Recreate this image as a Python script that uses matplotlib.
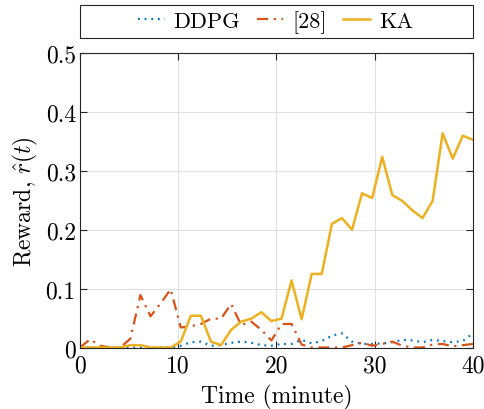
import numpy as np
import matplotlib
matplotlib.use("Agg")
import matplotlib.pyplot as plt
from matplotlib.patches import Rectangle

# time grid (minutes) and rewards
time_min = np.linspace(0, 40, 40)

ddpg = [0, 0, 0, 0, 0, 0, 0, 0, 0, 0,
        0.003, 0.009, 0.010, 0.003, 0.004, 0.008, 0.010, 0.008, 0.004, 0.003,
        0.006, 0.006, 0.013, 0.007, 0.011, 0.020, 0.024, 0.010, 0.006, 0.006,
        0.007, 0.009, 0.013, 0.012, 0.009, 0.013, 0.011, 0.009, 0.011, 0.024]

ref28 = [0, 0.014, 0.003, 0, 0, 0.015, 0.089, 0.053, 0.075, 0.099,
         0.034, 0.036, 0.040, 0.049, 0.049, 0.074, 0.038, 0.044, 0.030, 0.012,
         0.040, 0.040, 0.005, 0, 0, 0, 0, 0.004, 0.008, 0.003,
         0.006, 0.010, 0.003, 0, 0, 0.005, 0.006, 0.002, 0.004, 0.006]

ka = [0, 0, 0, 0, 0, 0.004, 0.004, 0, 0, 0,
      0.010, 0.054, 0.054, 0.010, 0.004, 0.030, 0.044, 0.049, 0.060, 0.045,
      0.049, 0.114, 0.048, 0.125, 0.125, 0.210, 0.220, 0.200, 0.262, 0.254,
      0.324, 0.259, 0.249, 0.233, 0.220, 0.249, 0.364, 0.321, 0.360, 0.353]

series_names = ["DDPG", "[28]", "KA"]
x_ticks = [0, 10, 20, 30, 40]
y_ticks = [0, 0.1, 0.2, 0.3, 0.4, 0.5]
y_tick_labels = ["0", "0.1", "0.2", "0.3", "0.4", "0.5"]

plt.rcParams["font.family"] = ["cmr10", "DejaVu Serif"]
plt.rcParams["mathtext.fontset"] = "cm"

fig = plt.figure(figsize=(4.85, 4.10), dpi=100)
ax = fig.add_axes([0.165, 0.150, 0.810, 0.7176])

l1, = ax.plot(time_min, ddpg, color="#0072BD", linestyle=(0, (0.8, 2.2)), lw=1.6)
l2, = ax.plot(time_min, ref28, color="#D95319", linestyle=(0, (5, 2.5, 1, 2.5)), lw=1.6)
l3, = ax.plot(time_min, ka, color="#EDB120", linestyle="-", lw=1.8)

ax.set_xlim(0, 40)
ax.set_ylim(0, 0.5)
ax.set_xticks(x_ticks)
ax.set_yticks(y_ticks)
ax.set_yticklabels(y_tick_labels)
ax.grid(True, color="#e0e0e0", lw=0.8)
ax.set_axisbelow(True)
ax.tick_params(direction="in", length=5, width=0.8, color="#262626",
               top=True, right=True, labelsize=17)
ax.tick_params(axis="y", pad=3)
ax.tick_params(axis="x", pad=5)
for s in ax.spines.values():
    s.set_color("#262626")
    s.set_linewidth(0.8)

ax.set_xlabel("Time (minute)", fontsize=17, labelpad=5)
ax.set_ylabel(r"Reward, $\hat{r}(t)$", fontsize=17, labelpad=4)

# legend box spanning the axes width, above the plot
fig.patches.append(Rectangle((0.165, 0.904), 0.810, 0.081, transform=fig.transFigure,
                             fill=False, edgecolor="#262626", lw=0.8))
fig.legend([l1, l2, l3], series_names, loc="center", bbox_to_anchor=(0.568, 0.9446),
           ncol=3, frameon=False, handlelength=1.2, handletextpad=0.4,
           columnspacing=0.75, fontsize=16)

fig.savefig("out.png", dpi=100)
